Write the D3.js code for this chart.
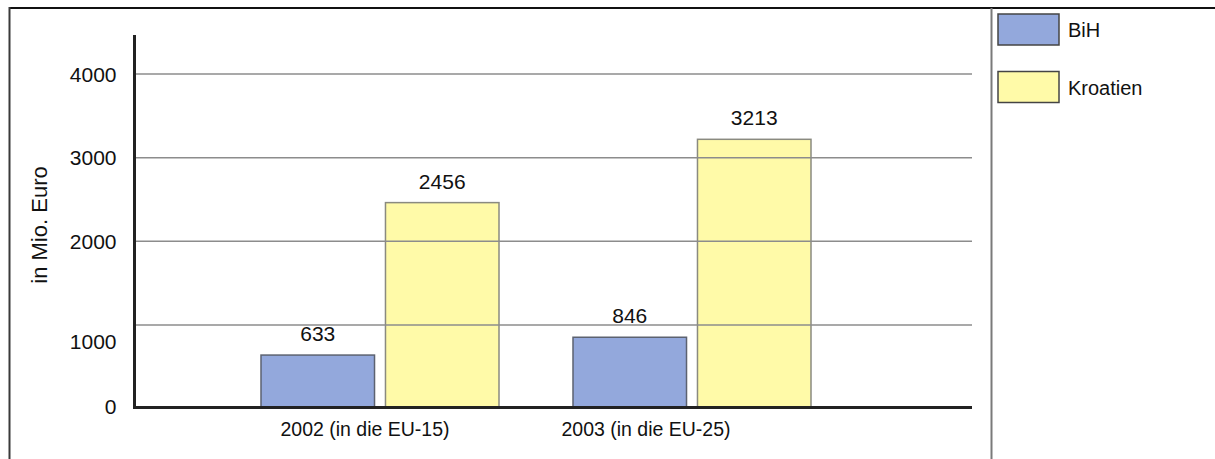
<!DOCTYPE html>
<html>
<head>
<meta charset="utf-8">
<script src="https://cdn.jsdelivr.net/npm/d3@7"></script>
<style>
  html, body { margin: 0; padding: 0; background: #fff; }
  svg { display: block; font-family: "Liberation Sans", Arial, sans-serif; }
</style>
</head>
<body>
<svg id="chart" width="1215" height="459"></svg>
<script>
// Exports to the EU, in million euro
const categories = ["2002 (in die EU-15)", "2003 (in die EU-25)"];
const seriesNames = ["BiH", "Kroatien"];
const bihValues = [633, 846];
const kroatienValues = [2456, 3213];
const tickValues = [0, 1000, 2000, 3000, 4000];
const tickLabels = ["0", "1000", "2000", "3000", "4000"];
const yTitle = "in Mio. Euro";

const seriesValues = { "BiH": bihValues, "Kroatien": kroatienValues };
const colors = { "BiH": "#93a8dc", "Kroatien": "#fffaa8" };
const strokes = { "BiH": "#5c6270", "Kroatien": "#8a8a80" };

const svg = d3.select("#chart");

// plot area
const axisX = 134.5, plotRight = 972, axisTop = 35;
const y = d3.scaleLinear().domain([0, 4000]).range([408, 73.5]);

const x0 = d3.scaleBand().domain(categories).range([224, 848])
  .paddingInner(0.2372).paddingOuter(0.1186);
const x1 = d3.scaleBand().domain(seriesNames).range([0, x0.bandwidth()])
  .paddingInner(0.088).paddingOuter(0);
const labelX = d3.scalePoint().domain(categories).range([365, 646]);

// outer frame and legend separator
svg.append("line").attr("x1", 9).attr("x2", 1215).attr("y1", 8).attr("y2", 8)
  .attr("stroke", "#111").attr("stroke-width", 2);
svg.append("line").attr("x1", 9.5).attr("x2", 9.5).attr("y1", 7).attr("y2", 459)
  .attr("stroke", "#3a3a3a").attr("stroke-width", 2);
svg.append("line").attr("x1", 991.5).attr("x2", 991.5).attr("y1", 8).attr("y2", 459)
  .attr("stroke", "#7a7a7a").attr("stroke-width", 2);

// bars
const rows = categories.map((c, i) => ({
  category: c,
  values: seriesNames.map(s => ({ series: s, value: seriesValues[s][i] }))
}));

const groups = svg.append("g").selectAll("g").data(rows).join("g")
  .attr("transform", d => `translate(${x0(d.category)},0)`);

groups.selectAll("rect").data(d => d.values).join("rect")
  .attr("x", d => x1(d.series))
  .attr("y", d => y(d.value))
  .attr("width", x1.bandwidth())
  .attr("height", d => y(0) - y(d.value))
  .attr("fill", d => colors[d.series])
  .attr("stroke", d => strokes[d.series])
  .attr("stroke-width", 1.5);

groups.selectAll("text").data(d => d.values).join("text")
  .attr("x", d => x1(d.series) + x1.bandwidth() / 2)
  .attr("y", d => y(d.value) - 14)
  .attr("text-anchor", "middle")
  .attr("font-size", 21)
  .attr("fill", "#111")
  .text(d => d.value);

// horizontal gridlines (drawn above the bars)
const grid = svg.append("g").attr("transform", `translate(${axisX},0)`)
  .call(d3.axisLeft(y).tickValues(tickValues.filter(v => v > 0))
    .tickSize(-(plotRight - axisX)).tickFormat(""));
grid.select(".domain").remove();
grid.selectAll(".tick line").attr("stroke", "#8c8c8c").attr("stroke-width", 1.5);

// y axis labels
const yAxis = svg.append("g").attr("transform", `translate(${axisX},0)`)
  .call(d3.axisLeft(y).tickValues(tickValues).tickSize(0).tickPadding(18)
    .tickFormat((d, i) => tickLabels[i]));
yAxis.select(".domain").remove();
yAxis.selectAll(".tick text")
  .attr("font-family", "Liberation Sans, Arial, sans-serif")
  .attr("font-size", 21)
  .attr("fill", "#111")
  .attr("dy", d => d === 1000 ? "1.15em" : (d === 0 ? "0.25em" : "0.36em"));

// axis lines
svg.append("line").attr("x1", axisX).attr("x2", axisX).attr("y1", axisTop).attr("y2", y(0) + 1)
  .attr("stroke", "#222").attr("stroke-width", 3);
svg.append("line").attr("x1", axisX - 1.5).attr("x2", plotRight).attr("y1", y(0) - 0.5).attr("y2", y(0) - 0.5)
  .attr("stroke", "#222").attr("stroke-width", 3);

// category labels
svg.append("g").selectAll("text").data(categories).join("text")
  .attr("x", d => labelX(d))
  .attr("y", 436)
  .attr("text-anchor", "middle")
  .attr("font-size", 19.5)
  .attr("fill", "#111")
  .text(d => d);

// y axis title
svg.append("text")
  .attr("transform", "translate(47,225) rotate(-90)")
  .attr("text-anchor", "middle")
  .attr("font-size", 22)
  .attr("fill", "#111")
  .text(yTitle);

// legend
const legend = svg.append("g").selectAll("g").data(seriesNames).join("g")
  .attr("transform", (d, i) => `translate(998,${14 + i * 57.5})`);
legend.append("rect")
  .attr("width", 61).attr("height", 31)
  .attr("fill", d => colors[d])
  .attr("stroke", "#444").attr("stroke-width", 1.5);
legend.append("text")
  .attr("x", 70).attr("y", 23)
  .attr("font-size", 20)
  .attr("fill", "#111")
  .text(d => d);
</script>
</body>
</html>
